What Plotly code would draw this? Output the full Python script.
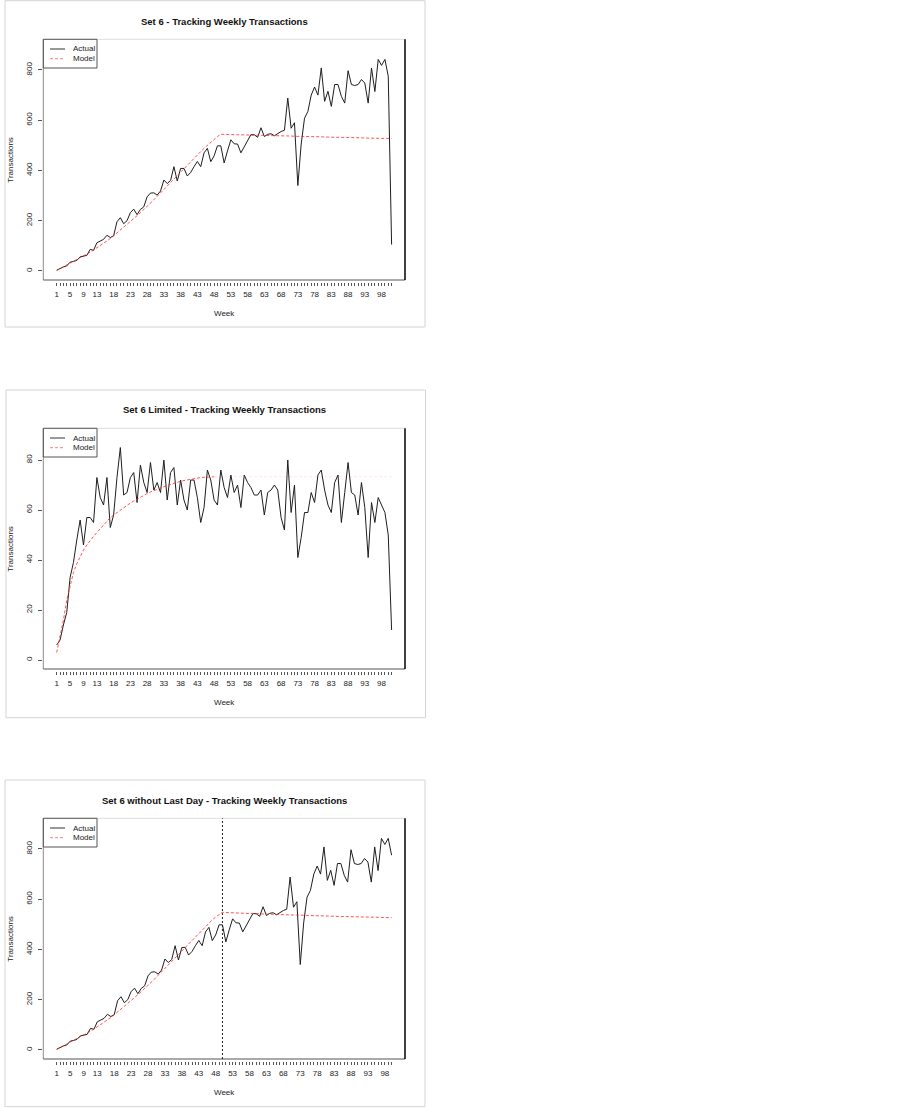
import plotly.graph_objects as go

W, H = 901, 1108

# ---------------- data ----------------
weeks_all = list(range(1, 102))          # 101 weeks
week_labels = [1, 5, 9, 13, 18, 23, 28, 33, 38, 43, 48, 53, 58, 63, 68, 73, 78, 83, 88, 93, 98]

actual_set6 = [
    3, 10, 16, 20, 35, 38, 42, 56, 58, 62,
    86, 82, 112, 118, 126, 142, 133, 140, 196, 212,
    188, 200, 232, 246, 224, 245, 255, 295, 310, 311,
    302, 318, 362, 348, 360, 415, 358, 408, 408, 378,
    392, 415, 436, 415, 470, 488, 435, 458, 498, 498,
    430, 478, 522, 506, 505, 470, 496, 522, 543, 542,
    532, 570, 535, 544, 546, 538, 548, 555, 560, 688,
    568, 590, 340, 505, 608, 635, 700, 732, 700, 808,
    675, 715, 655, 742, 742, 695, 668, 797, 742, 738,
    742, 762, 748, 668, 808, 714, 842, 818, 842, 775,
    105,
]
model_set6 = [
    2, 9, 16, 23, 30, 37, 44, 52, 60, 67,
    75, 83, 92, 100, 109, 119, 129, 140, 151, 162,
    173, 184, 196, 208, 220, 232, 244, 256, 269, 283,
    297, 311, 325, 339, 353, 367, 381, 395, 409, 423,
    436, 449, 462, 475, 488, 500, 512, 524, 535, 544,
    543, 543, 543, 542, 542, 542, 541, 541, 541, 540,
    540, 540, 539, 539, 539, 538, 538, 538, 537, 537,
    537, 536, 536, 536, 535, 535, 535, 534, 534, 534,
    533, 533, 533, 532, 532, 532, 531, 531, 531, 530,
    530, 530, 529, 529, 529, 528, 528, 528, 527, 527,
    527,
]
actual_limited = [
    6, 8, 14, 19, 33, 39, 48, 56, 46, 57,
    57, 55, 73, 65, 62, 73, 53, 58, 73, 85,
    66, 67, 73, 75, 63, 78, 71, 67, 79, 68,
    71, 67, 80, 64, 75, 77, 62, 72, 64, 60,
    72, 72, 65, 55, 61, 76, 72, 64, 62, 76,
    69, 65, 74, 67, 70, 61, 74, 71, 69, 66,
    66, 68, 58, 67, 68, 70, 68, 57, 52, 80,
    59, 70, 41, 49, 59, 59, 67, 63, 74, 76,
    68, 62, 59, 71, 74, 55, 67, 79, 67, 66,
    58, 71, 61, 41, 63, 55, 65, 62, 59, 50,
    12,
]
model_limited = [
    3, 9, 16, 24, 30, 35, 38.5, 41.5, 44, 46,
    48, 49.5, 51, 52.5, 54, 55.5, 57, 58, 59, 60,
    61, 62, 62.8, 63.6, 64.4, 65.2, 66, 66.6, 67.2, 67.8,
    68.3, 68.8, 69.3, 69.8, 70.3, 70.7, 71.1, 71.5, 71.8, 72.1,
    72.4, 72.6, 72.8, 73.0, 73.1, 73.2, 73.3, 73.3, 73.3, 73.3,
    73.3, 73.3, 73.3, 73.3, 73.3, 73.3, 73.3, 73.3, 73.3, 73.3,
    73.3, 73.3, 73.3, 73.3, 73.3, 73.3, 73.3, 73.3, 73.3, 73.3,
    73.3, 73.3, 73.3, 73.3, 73.3, 73.3, 73.3, 73.3, 73.3, 73.3,
    73.3, 73.3, 73.3, 73.3, 73.3, 73.3, 73.3, 73.3, 73.3, 73.3,
    73.3, 73.3, 73.3, 73.3, 73.3, 73.3, 73.3, 73.3, 73.3, 73.3,
    73.3,
]
actual_nolast = actual_set6[:100]
model_nolast = [
    2, 9, 16, 23, 30, 37, 44, 52, 60, 67,
    75, 83, 92, 100, 109, 119, 129, 140, 151, 162,
    173, 184, 196, 208, 220, 232, 244, 256, 269, 283,
    297, 311, 325, 339, 353, 367, 381, 395, 409, 423,
    437, 451, 465, 479, 493, 506, 518, 529, 539, 548,
    547, 546, 546, 545, 545, 544, 544, 543, 543, 542,
    542, 541, 541, 540, 540, 539, 539, 538, 538, 538,
    537, 537, 536, 536, 535, 535, 535, 534, 534, 533,
    533, 533, 532, 532, 531, 531, 531, 530, 530, 530,
    529, 529, 529, 528, 528, 528, 527, 527, 527, 527,
]
split_week = 50
limited_plateau_week = 48   # model of the limited set is drawn very faint after this week

yticks_full = [0, 200, 400, 600, 800]
yticks_limited = [0, 20, 40, 60, 80]

titles = [
    "Set 6 - Tracking Weekly Transactions",
    "Set 6 Limited - Tracking Weekly Transactions",
    "Set 6 without Last Day - Tracking Weekly Transactions",
]

# ---------------- layout helpers ----------------
def fx(x):
    return x / W


def fy(y):
    return 1 - y / H


FONT = "Liberation Sans, Arial, Helvetica, sans-serif"
PL, PR = 43.3, 405.0
MODEL_COLOR = "rgba(255,40,40,0.8)"

panels = [
    dict(top=39.3, bottom=280.0, title_y=21, outer=(5, 0.7, 425, 327),
         weeks=weeks_all, actual=actual_set6, model=model_set6,
         yr=[-36, 922], yt=yticks_full, xr=[-3, 105]),
    dict(top=428.3, bottom=669.0, title_y=410, outer=(6, 390, 425.5, 717.7),
         weeks=weeks_all, actual=actual_limited, model=model_limited,
         yr=[-3.6, 92.7], yt=yticks_limited, xr=[-3, 105]),
    dict(top=818.3, bottom=1059.0, title_y=800, outer=(5, 780, 425, 1106.7),
         weeks=weeks_all[:100], actual=actual_nolast, model=model_nolast,
         yr=[-36, 922], yt=yticks_full, xr=[-2.96, 103.96]),
]

fig = go.Figure()
shapes = []
annotations = []
layout = dict(
    width=W, height=H, margin=dict(l=0, r=0, t=0, b=0),
    paper_bgcolor="white", plot_bgcolor="rgba(0,0,0,0)",
    showlegend=False, font=dict(family=FONT, size=8, color="#222"),
)

for i, p in enumerate(panels, start=1):
    xa = "x" if i == 1 else f"x{i}"
    ya = "y" if i == 1 else f"y{i}"
    top, bot = p["top"], p["bottom"]

    fig.add_trace(go.Scatter(x=p["weeks"], y=p["actual"], mode="lines", name="Actual",
                             line=dict(color="#1e1e1e", width=1), xaxis=xa, yaxis=ya))
    if i == 2:
        k = limited_plateau_week
        fig.add_trace(go.Scatter(x=p["weeks"][:k], y=p["model"][:k], mode="lines", name="Model",
                                 line=dict(color=MODEL_COLOR, width=1, dash="3px,2px"),
                                 xaxis=xa, yaxis=ya))
        fig.add_trace(go.Scatter(x=p["weeks"][k - 1:], y=p["model"][k - 1:], mode="lines",
                                 name="Model", line=dict(color="rgba(255,60,60,0.13)", width=1,
                                                         dash="3px,2px"),
                                 xaxis=xa, yaxis=ya))
    else:
        fig.add_trace(go.Scatter(x=p["weeks"], y=p["model"], mode="lines", name="Model",
                                 line=dict(color=MODEL_COLOR, width=1, dash="3px,2px"),
                                 xaxis=xa, yaxis=ya))

    ticktext = [str(w) if w in week_labels else "" for w in p["weeks"]]
    layout["xaxis" if i == 1 else f"xaxis{i}"] = dict(
        domain=[fx(PL), fx(PR)], range=p["xr"], anchor="free", position=fy(bot + 1.8),
        tickmode="array", tickvals=p["weeks"], ticktext=ticktext,
        ticks="outside", ticklen=3.5, tickwidth=1, tickcolor="#555",
        ticklabelstandoff=1,
        showline=False, showgrid=False, zeroline=False,
        tickfont=dict(family=FONT, size=8, color="#222"), tickangle=0,
    )
    layout["yaxis" if i == 1 else f"yaxis{i}"] = dict(
        domain=[fy(bot), fy(top)], range=p["yr"], anchor=xa,
        tickmode="array", tickvals=p["yt"], ticktext=[str(v) for v in p["yt"]],
        ticks="outside", ticklen=4, tickwidth=1, tickcolor="#555",
        ticklabelstandoff=3,
        showline=False, showgrid=False, zeroline=False, tickangle=-90,
        tickfont=dict(family=FONT, size=8, color="#222"),
    )

    # outer panel border
    ox0, oy0, ox1, oy1 = p["outer"]
    shapes.append(dict(type="rect", xref="paper", yref="paper", x0=fx(ox0), x1=fx(ox1),
                       y0=fy(oy0), y1=fy(oy1), line=dict(color="#d4d4d4", width=1)))
    # plot frame (four sides)
    for (x0, y0, x1, y1, col, wd) in [
        (PL, top, PR, top, "#dedede", 1),
        (PL, top, PL, bot, "#8a8a8a", 1),
        (PL, bot, PR, bot, "#555555", 1),
        (PR, top, PR, bot, "#000000", 1.5),
    ]:
        shapes.append(dict(type="line", xref="paper", yref="paper", x0=fx(x0), x1=fx(x1),
                           y0=fy(y0), y1=fy(y1), line=dict(color=col, width=wd)))

    # legend (manual)
    shapes.append(dict(type="rect", xref="paper", yref="paper", x0=fx(PL), x1=fx(97),
                       y0=fy(top), y1=fy(top + 28.7), line=dict(color="#555", width=1)))
    shapes.append(dict(type="line", xref="paper", yref="paper", x0=fx(50), x1=fx(65),
                       y0=fy(top + 9.7), y1=fy(top + 9.7), line=dict(color="#333", width=1)))
    shapes.append(dict(type="line", xref="paper", yref="paper", x0=fx(50), x1=fx(65),
                       y0=fy(top + 19.4), y1=fy(top + 19.4),
                       line=dict(color="rgba(255,40,40,0.6)", width=1, dash="3px,2px")))
    for txt, dy in [("Actual", 9.7), ("Model", 19.4)]:
        annotations.append(dict(text=txt, x=fx(71), y=fy(top + dy), xref="paper", yref="paper",
                                showarrow=False, xanchor="left", yanchor="middle",
                                font=dict(family=FONT, size=8, color="#222")))

    # titles
    annotations.append(dict(text=titles[i - 1], x=fx((PL + PR) / 2), y=fy(p["title_y"]),
                            xref="paper", yref="paper", showarrow=False,
                            xanchor="center", yanchor="middle",
                            font=dict(family=FONT, size=9.5, color="#111", weight="bold")))
    annotations.append(dict(text="Week", x=fx((PL + PR) / 2), y=fy(bot + 33.3),
                            xref="paper", yref="paper", showarrow=False,
                            xanchor="center", yanchor="middle",
                            font=dict(family=FONT, size=8, color="#222")))
    annotations.append(dict(text="Transactions", x=fx(11), y=fy((top + bot) / 2),
                            xref="paper", yref="paper", showarrow=False, textangle=-90,
                            xanchor="center", yanchor="middle",
                            font=dict(family=FONT, size=8, color="#222")))

# vertical split line in panel 3
shapes.append(dict(type="line", xref="x3", yref="y3 domain", x0=split_week, x1=split_week,
                   y0=0, y1=1, line=dict(color="#222", width=1, dash="2px,2px")))

layout["shapes"] = shapes
layout["annotations"] = annotations
fig.update_layout(**layout)

fig.write_html("out.html", config={"displayModeBar": False},
               post_script="document.body.style.margin='0px';")
